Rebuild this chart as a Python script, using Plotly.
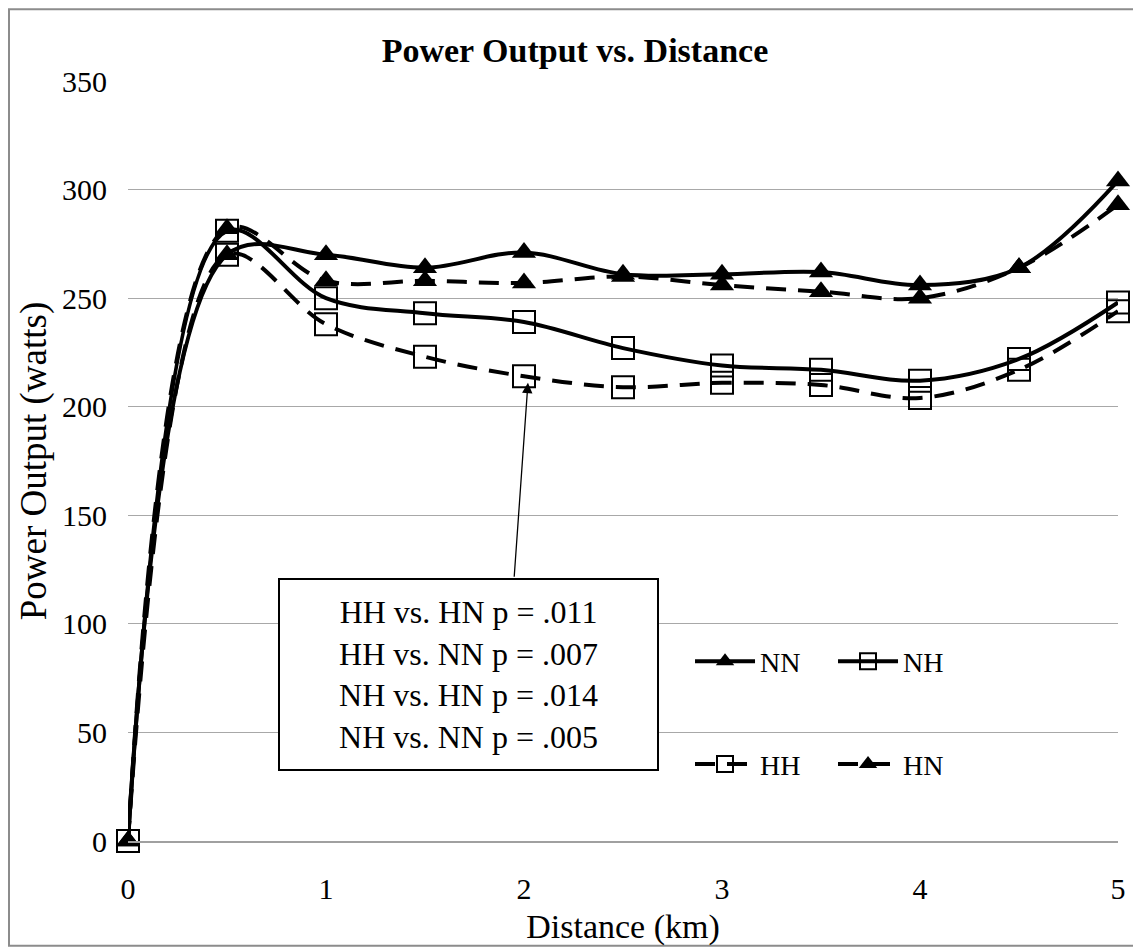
import plotly.graph_objects as go

distance = [0, 0.5, 1, 1.5, 2, 2.5, 3, 3.5, 4, 4.5, 5]
nn = [0, 270, 270, 264, 271, 261, 261, 262, 256, 264, 304]
nh = [0, 281, 250, 243, 239, 227, 219, 217, 212, 222, 248]
hh = [0, 270, 238, 223, 214, 209, 211, 210, 204, 217, 244]
hn = [0, 282, 258, 258, 257, 260, 256, 253, 250, 264, 293]

y_ticks = [0, 50, 100, 150, 200, 250, 300, 350]
x_ticks = [0, 1, 2, 3, 4, 5]
stats_lines = ["HH vs. HN p = .011", "HH vs. NN p = .007",
               "NH vs. HN p = .014", "NH vs. NN p = .005"]

FONT = "Liberation Serif, Times New Roman, serif"
DASH = "20px,12px"

fig = go.Figure()

def add(name, ys, dash, symbol, legend):
    if symbol == "triangle-up":
        marker = dict(symbol="triangle-up", size=21, color="black")
    else:
        marker = dict(symbol="square-open", size=22, color="black",
                      line=dict(width=2, color="black"))
    fig.add_trace(go.Scatter(
        x=distance, y=ys, name=name, mode="lines+markers",
        line=dict(color="black", width=4, dash=dash, shape="spline", smoothing=1),
        marker=marker, cliponaxis=False, legend=legend))

add("NN", nn, "solid", "triangle-up", "legend")
add("NH", nh, "solid", "square", "legend")
add("HH", hh, DASH, "square", "legend2")
add("HN", hn, DASH, "triangle-up", "legend2")

leg_common = dict(orientation="h", xanchor="left", yanchor="middle",
                  font=dict(family=FONT, size=28, color="black"),
                  itemwidth=60, bgcolor="rgba(0,0,0,0)", entrywidth=68)

fig.update_layout(
    width=1133, height=943,
    margin=dict(l=120, r=23, t=73, b=108),
    paper_bgcolor="white", plot_bgcolor="white",
    font=dict(family=FONT, color="black"),
    title=dict(text="<b>Power Output vs. Distance</b>", x=0.5004, xref="container",
               xanchor="center", y=0.9555, yref="container", yanchor="middle",
               font=dict(family=FONT, size=34, color="black")),
    xaxis=dict(range=[0, 5], tickvals=x_ticks, ticktext=[str(v) for v in x_ticks],
               showgrid=False, zeroline=False, showline=True, linecolor="#A0A0A0",
               linewidth=1.5, ticks="", tickfont=dict(family=FONT, size=30),
               ticklabelstandoff=20,
               title=dict(text="Distance (km)", font=dict(family=FONT, size=34),
                          standoff=10)),
    yaxis=dict(range=[0, 350], tickvals=y_ticks, showgrid=True, gridcolor="#A8A8A8",
               gridwidth=1.2, zeroline=False, showline=False, ticks="",
               tickfont=dict(family=FONT, size=30), ticklabelstandoff=20,
               title=dict(text="Power Output (watts)", font=dict(family=FONT, size=37),
                          standoff=4)),
    legend=dict(x=0.5677, y=0.2362, **leg_common),
    legend2=dict(x=0.5677, y=0.101, **leg_common),
    showlegend=True,
)

# outer chart border
fig.add_shape(type="rect", xref="paper", yref="paper",
              x0=-0.1202, x1=1.0222, y0=-0.1378, y1=1.0945,
              line=dict(color="#8C8C8C", width=2), layer="below")

# arrow pointing at HH at 2 km
fig.add_annotation(x=2.02, y=211, ax=1.95, ay=121, axref="x", ayref="y",
                   xref="x", yref="y", text="", showarrow=True,
                   arrowhead=2, arrowsize=1.6, arrowwidth=1.3, arrowcolor="black")

# statistics box
fig.add_annotation(x=1.721, y=76.9, xref="x", yref="y", text="<br>".join(stats_lines),
                   showarrow=False, align="center", width=377, height=189,
                   bordercolor="black", borderwidth=2, borderpad=0, bgcolor="white",
                   font=dict(family=FONT, size=32, color="black"))

fig.write_html("out.html")
